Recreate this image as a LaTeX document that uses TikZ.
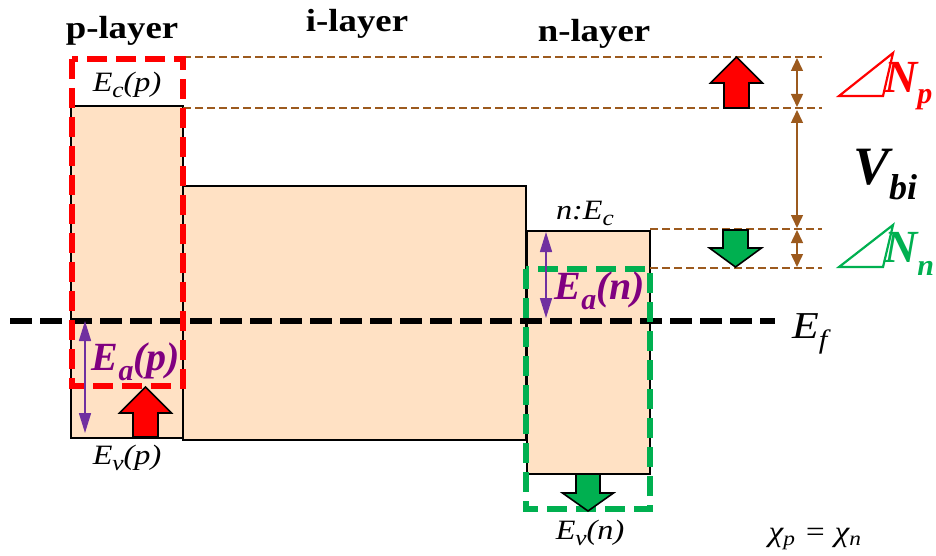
\documentclass[tikz,border=0pt]{standalone}
\usepackage{fontspec}
\setmainfont{Liberation Serif}
\newfontfamily\widefont[FakeStretch=1.15]{Liberation Serif}
\usetikzlibrary{arrows.meta}
\definecolor{BandPeach}{HTML}{FFE1C4}
\definecolor{DopeRed}{HTML}{FF0000}
\definecolor{DopeGreen}{HTML}{00B050}
\definecolor{LevelBrown}{HTML}{9C5A1E}
\definecolor{EaPurple}{HTML}{7030A0}
\definecolor{EaText}{HTML}{800080}
% lowered subscript: drop, size, text
\newcommand{\lowsub}[3]{\raisebox{-#1}{\fontsize{#2}{#2}\selectfont #3}}

\begin{document}
\begin{tikzpicture}[x=1pt,y=-1pt,
  band/.style={draw=black,line width=2.8pt,fill=BandPeach},
  pbox/.style={draw=DopeRed,line width=6pt,dash pattern=on 20pt off 9pt},
  nbox/.style={draw=DopeGreen,line width=6pt,dash pattern=on 20pt off 9pt},
  fermi/.style={draw=black,line width=6pt,dash pattern=on 22pt off 8pt},
  level/.style={draw=LevelBrown,line width=2pt,dash pattern=on 8pt off 4pt},
  gap/.style={{Triangle[length=13pt,width=12pt]}-{Triangle[length=13pt,width=12pt]},draw=LevelBrown,line width=1.5pt},
  ea/.style={{Triangle[length=20pt,width=12pt]}-{Triangle[length=20pt,width=12pt]},draw=EaPurple,line width=1.6pt},
  block/.style={draw=black,line width=1.6pt,line join=miter},
  delta/.style={line width=2.2pt,line join=miter},
  layer/.style={font=\widefont\fontsize{32}{36}\selectfont\bfseries},
  lvl/.style={font=\widefont\fontsize{28}{32}\selectfont\itshape},
  eatext/.style={text=EaText,font=\fontsize{40}{44}\selectfont\bfseries\itshape},
  dnlabel/.style={anchor=base west,inner sep=0pt,font=\fontsize{46}{50}\selectfont\bfseries\itshape}
]
  \useasboundingbox (0,0) rectangle (936,556);
  % bands
  \draw[band] (71,106) rectangle (183,438);
  \draw[band] (183,186) rectangle (526,440);
  \draw[band] (527,231) rectangle (650,474);
  % level lines
  \draw[level] (183,57) -- (822,57);
  \draw[level] (183,108) -- (822,108);
  \draw[level] (650,229) -- (822,229);
  \draw[level] (650,268) -- (822,268);
  % Fermi level
  \draw[fermi] (10,321) -- (775,321);
  % doping windows
  \draw[pbox] (72,59) rectangle (183,386);
  \draw[nbox] (526,269) rectangle (650,509);
  % block arrows
  \draw[block,fill=DopeRed,shift={(145.5,437)}] (-12.5,0) -- (-12.5,-24) -- (-26,-24) -- (0,-50) -- (26,-24) -- (12.5,-24) -- (12.5,0) -- cycle;
  \draw[block,fill=DopeRed,shift={(736.5,108)}] (-12.5,0) -- (-12.5,-25) -- (-26,-25) -- (0,-51) -- (26,-25) -- (12.5,-25) -- (12.5,0) -- cycle;
  \draw[block,fill=DopeGreen,shift={(735.5,230)}] (-12.5,0) -- (-12.5,18) -- (-26,18) -- (0,37) -- (26,18) -- (12.5,18) -- (12.5,0) -- cycle;
  \draw[block,fill=DopeGreen,shift={(588,474)}] (-12,0) -- (-12,19) -- (-25.5,19) -- (0,37) -- (25.5,19) -- (12,19) -- (12,0) -- cycle;
  % gap arrows
  \coordinate (vtop) at (797,58);
  \coordinate (vpc) at (797,107);
  \coordinate (vpc2) at (797,110);
  \coordinate (vnc) at (797,228);
  \coordinate (vnc2) at (797,230);
  \coordinate (vnf) at (797,267);
  \draw[gap] (vtop) -- (vpc);
  \draw[gap] (vpc2) -- (vnc);
  \draw[gap] (vnc2) -- (vnf);
  % activation energies
  \coordinate (eap1) at (85,321);
  \coordinate (eap2) at (85,433);
  \coordinate (ean1) at (546,232);
  \coordinate (ean2) at (546,318);
  \draw[ea] (eap1) -- (eap2);
  \draw[ea] (ean1) -- (ean2);
  % labels
  \node[layer] (pl) at (122,31) {p-layer};
  \node[layer] (il) at (357,24) {i-layer};
  \node[layer] (nl) at (594,34) {n-layer};
  \node[lvl] (ecp) at (127,85) {E\lowsub{6pt}{22}{c}(p)};
  \node[lvl] (evp) at (127,458) {E\lowsub{6pt}{22}{v}(p)};
  \node[lvl] (ecn) at (585,213) {n:E\lowsub{6pt}{22}{c}};
  \node[lvl] (evn) at (590,533) {E\lowsub{6pt}{22}{v}(n)};
  \node[eatext] (eap) at (136,362) {E\lowsub{10pt}{30}{a}(p)};
  \node[eatext] (ean) at (600,291) {E\lowsub{10pt}{30}{a}(n)};
  \node[font=\widefont\fontsize{38}{42}\selectfont\itshape] (ef) at (810,334) {E\textsubscript{f}};
  \node[anchor=base west,inner sep=0pt,font=\fontsize{54}{58}\selectfont\bfseries\itshape] (vbi) at (853,185) {V\lowsub{14pt}{36}{bi}};
  % doping changes
  \draw[delta,draw=DopeRed] (839,96) -- (893,53) -- (883,96) -- cycle;
  \node[dnlabel,text=DopeRed] (dnp) at (884,93) {N\lowsub{11pt}{30}{p}};
  \draw[delta,draw=DopeGreen] (839,267) -- (893,225) -- (883,267) -- cycle;
  \node[dnlabel,text=DopeGreen] (dnn) at (884,262) {N\lowsub{13pt}{30}{n}};
  \node[font=\widefont\fontsize{29}{33}\selectfont\itshape] (chi) at (815,539) {χ\textsubscript{p} = χ\textsubscript{n}};
\end{tikzpicture}
\end{document}
